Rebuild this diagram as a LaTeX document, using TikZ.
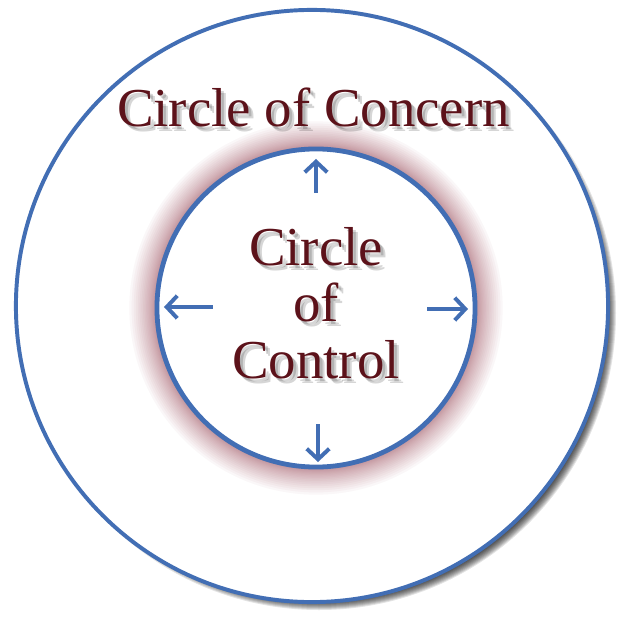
\documentclass[tikz,border=0pt]{standalone}
\usepackage{fontspec}
\setmainfont{Liberation Serif}
\usepackage{tikz}
\usetikzlibrary{positioning, arrows.meta}
\definecolor{RingBlue}{RGB}{66,110,180}
\definecolor{DarkMaroon}{RGB}{92,18,26}
\definecolor{GlowRed}{RGB}{150,62,78}

\begin{document}
\begin{tikzpicture}[x=0.025cm, y=0.025cm,
    ring/.style={circle, draw=RingBlue, fill=white, inner sep=0pt},
    spread/.style={RingBlue, line width=2.8pt, -{Straight Barb[length=7.5pt, width=16pt]}},
    heading/.style={font=\fontsize{39}{40}\selectfont, align=center, inner sep=0pt},
    headshadow/.style={heading, text=black, text opacity=0.16}]
    \useasboundingbox (-312,-312) rectangle (312,306);
    \fill[white] (-312,-312) rectangle (312,306);

    % Shadow behind the outer ring
    \foreach \i in {0,...,9}
        \fill[black, opacity=0.11] (7,-7) circle ({288+\i});

    % Rings
    \node[ring, line width=2.8pt, minimum size=14.8cm] (concern) at (0,0) {};
    \foreach \i in {1,...,24}
        \fill[GlowRed, opacity=0.04] (4,-2) circle ({159+0.048*\i*\i});
    \node[ring, line width=3.4pt, minimum size=7.95cm] (control) at (4,-2) {};

    % Labels
    \foreach \dx/\dy [count=\k] in {3/-3, 5/-5} {
        \node[headshadow, anchor=base] (concernsh\k) at (1.5+\dx,179+\dy) {Circle of Concern};
        \node[headshadow] (controlsh\k) at (4+\dx,3+\dy) {Circle\\of\\Control};
    }
    \node[heading, text=DarkMaroon, anchor=base] (concernlabel) at (1.5,179) {Circle of Concern};
    \node[heading, text=DarkMaroon] (controllabel) at (4,3) {Circle\\of\\Control};

    % Arrows
    \coordinate (upA) at (4,113);    \coordinate (upB) at (4,147);
    \coordinate (downA) at (6,-118); \coordinate (downB) at (6,-156);
    \coordinate (leftA) at (-99,-1); \coordinate (leftB) at (-148,-1);
    \coordinate (rightA) at (115,-3);\coordinate (rightB) at (156,-3);
    \draw[spread] (upA) -- (upB);
    \draw[spread] (downA) -- (downB);
    \draw[spread] (leftA) -- (leftB);
    \draw[spread] (rightA) -- (rightB);
\end{tikzpicture}
\end{document}
